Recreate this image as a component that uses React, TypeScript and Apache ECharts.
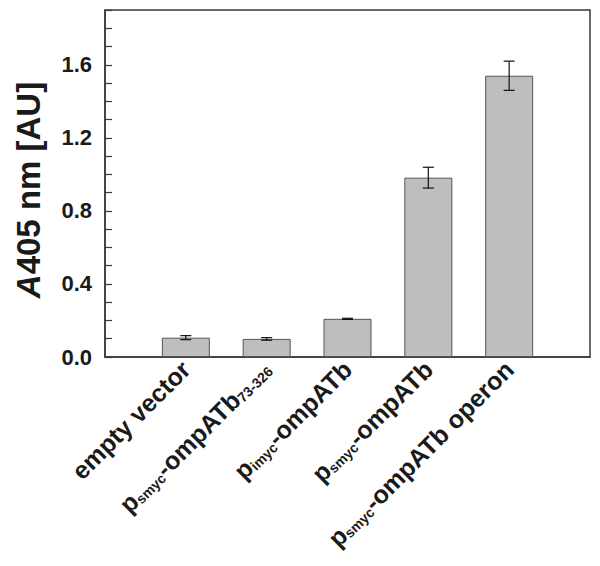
import React, { useEffect, useRef } from "react";
import * as echarts from "echarts";

// Category labels as [text, isSubscript] segments
const categories: [string, boolean][][] = [
  [["empty vector", false]],
  [["p", false], ["smyc", true], ["-ompATb", false], ["73-326", true]],
  [["p", false], ["imyc", true], ["-ompATb", false]],
  [["p", false], ["smyc", true], ["-ompATb", false]],
  [["p", false], ["smyc", true], ["-ompATb operon", false]],
];
const values = [0.106, 0.099, 0.209, 0.982, 1.54];
const errors = [0.011, 0.007, 0.003, 0.057, 0.08];
const yTickLabels = [0, 0.4, 0.8, 1.2, 1.6];

const FONT = "'Liberation Sans', Arial, Helvetica, sans-serif";

export default function App() {
  const ref = useRef<HTMLDivElement>(null);
  useEffect(() => {
    if (!ref.current) return;
    const chart = echarts.init(ref.current, null, { renderer: "svg" });
    const axisData = ["", ...categories.map((_, i) => String(i)), ""];
    const barData: any[] = ["-", ...values, "-"];
    const errData = values.map((v, i) => [i + 1, v - errors[i], v + errors[i]]);
    const labelFmt = (val: string) => {
      if (val === "") return "";
      const parts = categories[Number(val)];
      return parts.map(([t, sub]) => `{${sub ? "s" : "m"}|${t}}`).join("");
    };
    chart.setOption({
      animation: false,
      grid: {
        left: 105,
        top: 10,
        width: 485,
        height: 347,
        show: true,
        borderColor: "#3a3a3a",
        borderWidth: 1.5,
        backgroundColor: "transparent",
      },
      xAxis: {
        type: "category",
        data: axisData,
        boundaryGap: false,
        axisLine: { lineStyle: { color: "#3a3a3a", width: 1.5 } },
        axisTick: { show: false },
        axisLabel: {
          interval: 0,
          rotate: 45,
          margin: 8,
          formatter: labelFmt,
          color: "#1a1a1a",
          fontFamily: FONT,
          fontWeight: "bold",
          fontSize: 25,
          rich: {
            m: { fontFamily: FONT, fontWeight: "bold", fontSize: 25, color: "#1a1a1a" },
            s: {
              fontFamily: FONT,
              fontWeight: "bold",
              fontSize: 14,
              lineHeight: 22,
              color: "#1a1a1a",
              verticalAlign: "bottom",
            },
          },
        },
        splitLine: { show: false },
      },
      yAxis: {
        type: "value",
        min: 0,
        max: 1.9,
        interval: 0.1,
        axisLine: { show: true, lineStyle: { color: "#3a3a3a", width: 1.5 } },
        axisTick: { show: true, inside: true, length: 7, lineStyle: { color: "#3a3a3a", width: 1.2 } },
        splitLine: { show: false },
        axisLabel: {
          margin: 13,
          color: "#1a1a1a",
          fontFamily: FONT,
          fontWeight: "bold",
          fontSize: 22,
          formatter: (v: number) =>
            yTickLabels.some((t) => Math.abs(t - v) < 1e-6) ? v.toFixed(1) : "",
        },
      },
      graphic: [
        {
          type: "text",
          x: 28,
          y: 190,
          rotation: Math.PI / 2,
          style: {
            text: "{i|A}{n|405 nm [AU]}",
            align: "center",
            verticalAlign: "middle",
            rich: {
              i: { fontFamily: FONT, fontWeight: "bold", fontStyle: "italic", fontSize: 33, fill: "#1a1a1a" },
              n: { fontFamily: FONT, fontWeight: "bold", fontSize: 33, fill: "#1a1a1a" },
            },
          },
        },
      ],
      series: [
        {
          type: "bar",
          data: barData,
          barWidth: 48,
          itemStyle: { color: "#bebebe", borderColor: "#555555", borderWidth: 1 },
          z: 2,
        },
        {
          type: "custom",
          data: errData,
          z: 3,
          renderItem: (params: any, api: any) => {
            const x = api.value(0);
            const lo = api.coord([x, api.value(1)]);
            const hi = api.coord([x, api.value(2)]);
            const cw = 5.5;
            const style = { stroke: "#111", lineWidth: 1.2, fill: "none" };
            return {
              type: "group",
              children: [
                { type: "line", shape: { x1: lo[0], y1: lo[1], x2: hi[0], y2: hi[1] }, style },
                { type: "line", shape: { x1: lo[0] - cw, y1: lo[1], x2: lo[0] + cw, y2: lo[1] }, style },
                { type: "line", shape: { x1: hi[0] - cw, y1: hi[1], x2: hi[0] + cw, y2: hi[1] }, style },
              ],
            };
          },
        },
      ],
    });
    return () => chart.dispose();
  }, []);
  return (
    <div
      ref={ref}
      style={{ position: "fixed", left: 0, top: 0, width: 600, height: 566, background: "#fff" }}
    />
  );
}
